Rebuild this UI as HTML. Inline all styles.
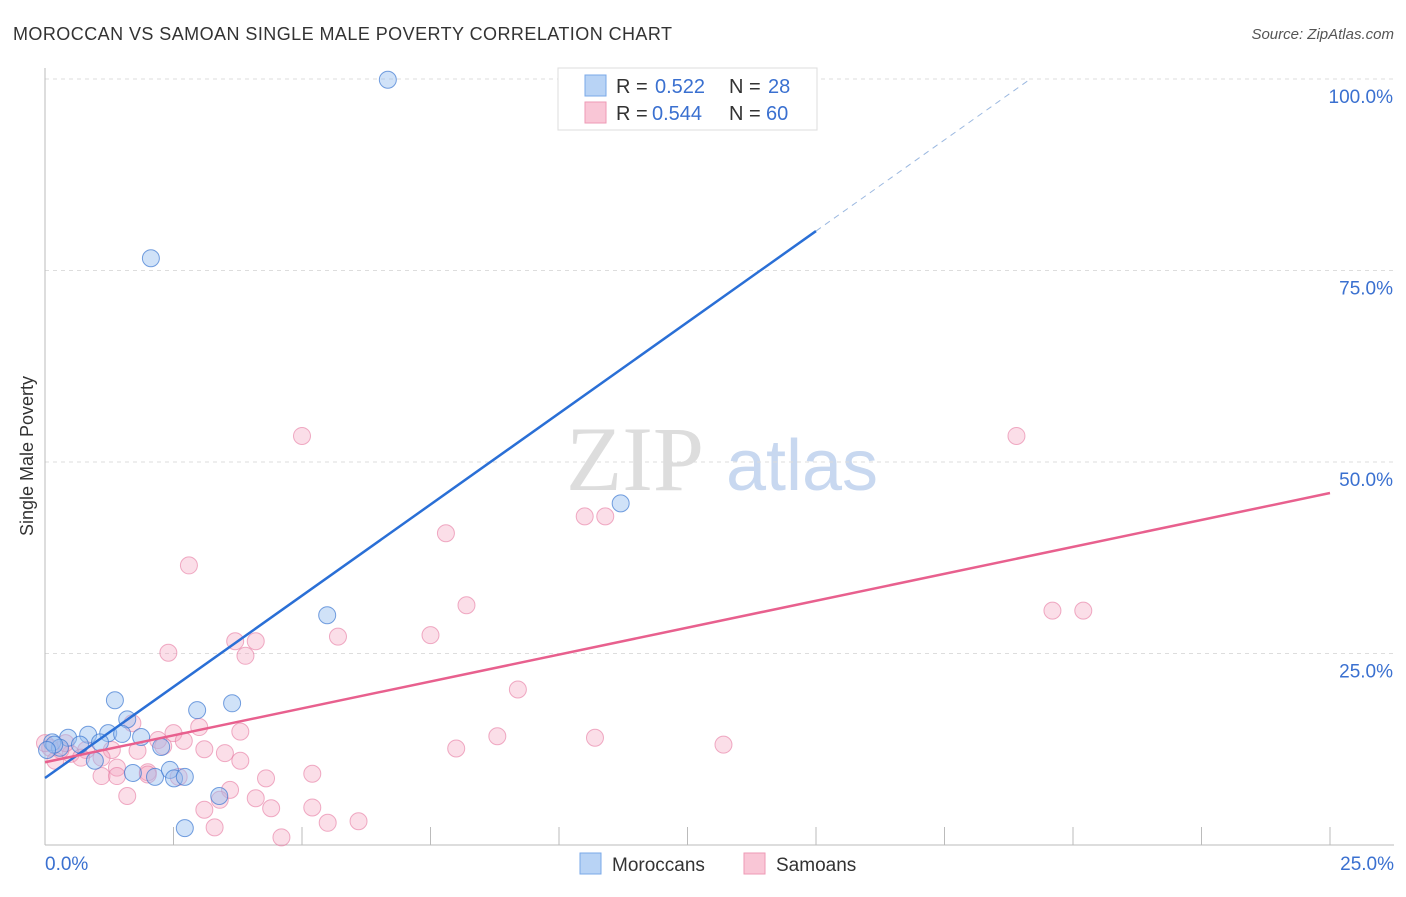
<!DOCTYPE html>
<html><head><meta charset="utf-8"><style>
body{margin:0;background:#fff;font-family:"Liberation Sans",sans-serif}
</style></head><body>
<svg id="c" width="1406" height="892" xmlns="http://www.w3.org/2000/svg">
<text x="13" y="40" font-size="18" fill="#333" textLength="659">MOROCCAN VS SAMOAN SINGLE MALE POVERTY CORRELATION CHART</text>
<text x="1394" y="39" font-size="15" fill="#555" font-style="italic" text-anchor="end">Source: ZipAtlas.com</text>
<text x="33" y="456" font-size="18" fill="#333" text-anchor="middle" transform="rotate(-90 33 456)">Single Male Poverty</text>
<g><text x="635" y="490" font-size="92" fill="#ddd" font-family="Liberation Serif" text-anchor="middle">ZIP</text><text x="802" y="490" font-size="72" fill="#c8d8f0" text-anchor="middle">atlas</text></g>
<g id="grid"></g><g id="marks"></g>
<g>
<rect x="558" y="68" width="259" height="62" fill="#fff" stroke="#ddd"/>
<rect x="585" y="75" width="21" height="21" fill="#b8d3f5" stroke="#7aa8e8"/>
<rect x="585" y="102" width="21" height="21" fill="#f9c6d6" stroke="#ee9ab5"/>
<text y="93" font-size="20" fill="#333"><tspan x="616">R =</tspan><tspan x="655" fill="#3a70d0">0.522</tspan><tspan x="729">N =</tspan><tspan x="768" fill="#3a70d0">28</tspan></text>
<text y="120" font-size="20" fill="#333"><tspan x="616">R =</tspan><tspan x="652" fill="#3a70d0">0.544</tspan><tspan x="729">N =</tspan><tspan x="766" fill="#3a70d0">60</tspan></text>
</g>
<g>
<rect x="580" y="853" width="21" height="21" fill="#b8d3f5" stroke="#7aa8e8"/><text x="612" y="871" font-size="19" fill="#333">Moroccans</text>
<rect x="744" y="853" width="21" height="21" fill="#f9c6d6" stroke="#ee9ab5"/><text x="776" y="871" font-size="19" fill="#333">Samoans</text>
</g>
</svg>
<script>
const yTicks=[25,50,75,100];
const yTickLabels=["25.0%","50.0%","75.0%","100.0%"];
const xTicks=[0,2.5,5,7.5,10,12.5,15,17.5,20,22.5,25];
const moroccanX=[6.67,2.06,11.2,5.49,1.36,2.96,3.64,1.6,1.23,1.87,0.84,0.45,0.14,0.29,0.68,1.07,2.26,1.5,0.97,1.71,2.14,2.43,2.51,2.72,3.39,2.72,0.18,0.04];
const moroccanY=[99.9,76.6,44.6,30.0,18.9,17.6,18.5,16.4,14.6,14.1,14.4,14.0,13.4,12.7,13.1,13.4,12.8,14.5,11.0,9.4,8.9,9.8,8.7,8.9,6.4,2.2,13.1,12.4];
const samoanX=[5.0,18.9,7.8,10.5,10.9,2.8,8.2,19.6,20.2,3.7,4.1,5.7,7.5,2.4,3.9,9.2,1.7,2.5,3.0,3.8,2.7,2.2,8.8,10.7,8.0,13.2,3.1,3.5,2.3,1.8,1.3,0.8,0.5,0.7,0.3,0.1,0.0,1.4,1.1,2.0,2.6,1.4,4.3,5.2,3.6,3.4,1.6,4.1,3.1,4.4,5.2,3.3,5.5,6.1,4.6,2.0,1.1,0.4,0.2,3.8];
const samoanY=[53.4,53.4,40.7,42.9,42.9,36.5,31.3,30.6,30.6,26.6,26.6,27.2,27.4,25.1,24.7,20.3,15.9,14.6,15.4,14.8,13.6,13.7,14.2,14.0,12.6,13.1,12.5,12.0,12.9,12.3,12.4,12.4,11.9,11.4,12.4,12.7,13.3,10.1,9.0,9.5,8.9,9.0,8.7,9.3,7.2,5.9,6.4,6.1,4.6,4.8,4.9,2.3,2.9,3.1,1.0,9.2,11.4,13.3,11.0,11.0];
const blueLine=[8.75,4.76], pinkLine=[10.8,1.406];
const X=v=>45+v/25*1285, Y=v=>845-v/100*766;
const NS="http://www.w3.org/2000/svg";
function mk(t,a,p){const e=document.createElementNS(NS,t);for(const k in a)e.setAttribute(k,a[k]);p.appendChild(e);return e;}
const g=document.getElementById('grid'),m=document.getElementById('marks');
yTicks.forEach((t,i)=>{const l=mk('line',{x1:45,x2:1394,y1:Y(t),y2:Y(t),stroke:'#ddd','stroke-dasharray':'4,4'},g);

const tx=mk('text',{x:1393,y:Y(t)+24,'font-size':19,fill:'#3a70d0','text-anchor':'end'},g);tx.textContent=yTickLabels[i];
});
mk('line',{x1:45,x2:45,y1:68,y2:845,stroke:'#bbb'},g);
mk('line',{x1:45,x2:1394,y1:845,y2:845,stroke:'#bbb'},g);
xTicks.forEach(t=>{const l=mk('line',{x1:X(t),x2:X(t),y1:827,y2:845,stroke:'#bbb'},g);
});
[[0,'0.0%','start',45],[25,'25.0%','end',1394]].forEach(a=>{const t=mk('text',{x:a[3],y:870,'font-size':19,fill:'#3a70d0','text-anchor':a[2]},g);t.textContent=a[1];
});
samoanX.forEach((x,i)=>{const c=mk('circle',{cx:X(x),cy:Y(samoanY[i]),r:8.5,fill:'rgba(244,160,188,0.35)',stroke:'rgba(230,120,160,0.6)'},m);
});
moroccanX.forEach((x,i)=>{const c=mk('circle',{cx:X(x),cy:Y(moroccanY[i]),r:8.5,fill:'rgba(150,190,240,0.45)',stroke:'rgba(60,120,210,0.7)'},m);
});
let l=mk('line',{x1:X(0),y1:Y(blueLine[0]),x2:X(15),y2:Y(blueLine[0]+blueLine[1]*15),stroke:'#2a6fd6','stroke-width':2.5},m);

const xe=(100-blueLine[0])/blueLine[1];
l=mk('line',{x1:X(15),y1:Y(blueLine[0]+blueLine[1]*15),x2:X(xe),y2:Y(100),stroke:'#9bb8e0','stroke-width':1,'stroke-dasharray':'6,5'},m);

l=mk('line',{x1:X(0),y1:Y(pinkLine[0]),x2:X(25),y2:Y(pinkLine[0]+pinkLine[1]*25),stroke:'#e8608e','stroke-width':2.5},m);

</script>
</body></html>
